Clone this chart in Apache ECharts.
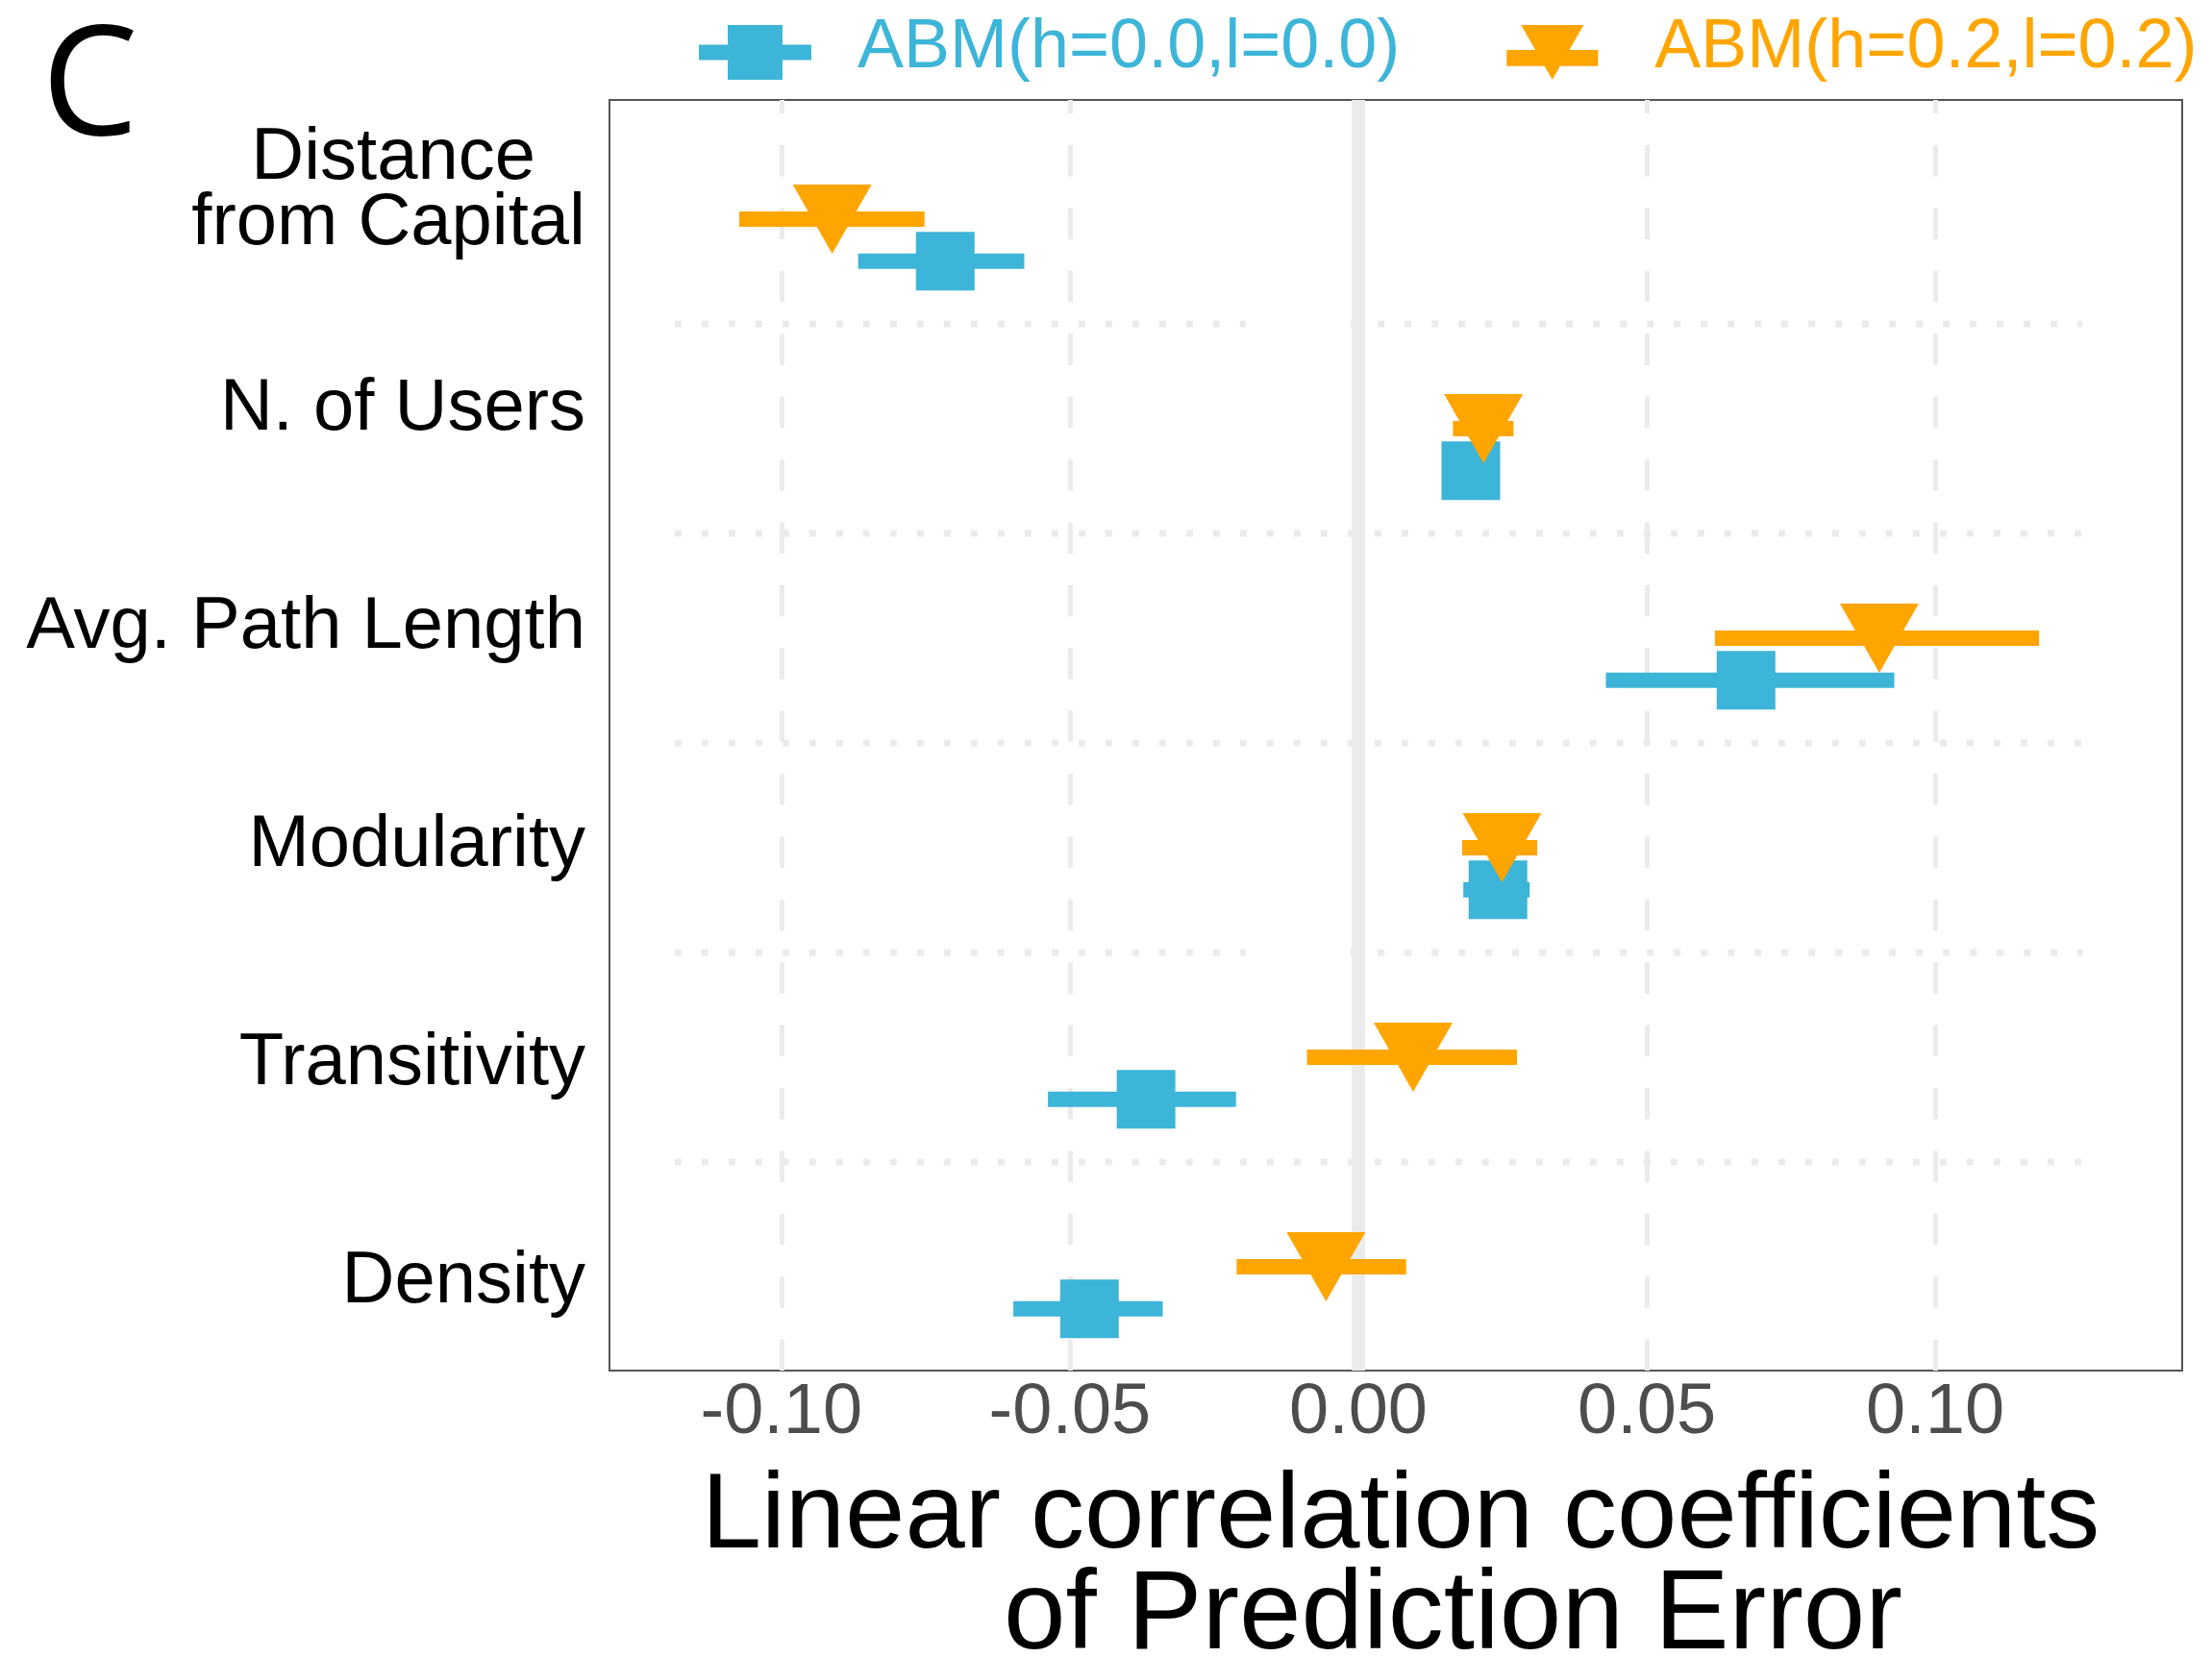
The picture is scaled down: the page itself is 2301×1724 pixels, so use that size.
<!DOCTYPE html>
<html lang="en">
<head>
    <meta charset="UTF-8">
    <script src="https://cdn.jsdelivr.net/npm/echarts@6/dist/echarts.min.js"></script>
    <style>
        * { margin: 0; padding: 0; }
        body { background: #fff; }
        #chart { width: 2301px; height: 1724px; }
    </style>
</head>
<body>
<div id="chart"></div>

<script>
    // categories, top to bottom
    const categories = ['Distance\nfrom Capital', 'N. of Users', 'Avg. Path Length', 'Modularity', 'Transitivity', 'Density'];
    const modelNames = ['ABM(h=0.0,l=0.0)', 'ABM(h=0.2,l=0.2)'];

    // ABM(h=0.0,l=0.0)
    const est00 = [-0.0716, 0.0195, 0.0672, 0.0242, -0.0368, -0.0466];
    const low00 = [-0.0867, 0.0158, 0.0429, 0.0182, -0.0538, -0.0598];
    const high00 = [-0.0579, 0.0232, 0.0929, 0.0297, -0.0212, -0.0339];

    // ABM(h=0.2,l=0.2)
    const est02 = [-0.0912, 0.0217, 0.0903, 0.0249, 0.0095, -0.0056];
    const low02 = [-0.1073, 0.0164, 0.0618, 0.0180, -0.0089, -0.0211];
    const high02 = [-0.0752, 0.0269, 0.1180, 0.0310, 0.0275, 0.0083];

    // dotted separators between categories: [position, from, to]
    const sepSegments = [
        [0.5, -0.1185, -0.0195], [0.5, -0.0013, 0.1255],
        [1.5, -0.1185, 0.1255],
        [2.5, -0.1185, 0.1255],
        [3.5, -0.1185, -0.0195], [3.5, -0.0013, 0.1255],
        [4.5, -0.1185, 0.1255]
    ];

    const xMin = -0.1298, xMax = 0.1428;
    const yMin = -0.569, yMax = 5.495;
    const dodge = 0.2;

    const BLUE = '#3db5d8';
    const ORANGE = '#ffa500';
    const GRID_GREY = '#ebebeb';
    const FONT = '"Liberation Sans", Arial, sans-serif';

    // legend keys drawn in a 117 x 100 box (the moveTo's fix the box)
    const iconBlue = 'path://M0 0M117 100M0 46.5H30V26H87V46.5H117V62.5H87V83H30V62.5H0Z';
    const iconOrange = 'path://M0 0M117 100M26 26H91L76.2 52H106V68.7H66.65L58.5 83L50.35 68.7H11V52H40.8Z';

    const errorBar = (color, offset) => (params, api) => {
        const y = api.value(0) + offset;
        const a = api.coord([api.value(1), y]);
        const b = api.coord([api.value(2), y]);
        return {
            type: 'rect',
            shape: {x: a[0], y: a[1] - 8, width: b[0] - a[0], height: 16},
            style: {fill: color}
        };
    };

    const chart = echarts.init(document.getElementById('chart'));

    const option = {
        backgroundColor: '#fff',
        animation: false,
        textStyle: {fontFamily: FONT},
        graphic: [{
            type: 'text',
            x: 43,
            y: 94,
            style: {
                text: 'C',
                fontSize: 160,
                fontFamily: '"Open Sans", "Noto Sans", sans-serif',
                fill: '#000',
                verticalAlign: 'middle'
            }
        }],
        legend: {
            left: 727,
            top: 0,
            padding: 0,
            itemWidth: 117,
            itemHeight: 100,
            itemGap: 100,
            selectedMode: false,
            textStyle: {fontSize: 72, fontFamily: FONT, padding: [0, 0, 0, 43]},
            data: [
                {name: modelNames[0], icon: iconBlue, textStyle: {color: BLUE}},
                {name: modelNames[1], icon: iconOrange, textStyle: {color: ORANGE}}
            ]
        },
        grid: [
            {
                left: 634, right: 31, top: 104, height: 1322,
                outerBoundsMode: 'none', containLabel: false,
                show: true, borderColor: '#555', borderWidth: 2, backgroundColor: '#fff'
            },
            {
                left: 634, right: 31, top: 85.5, height: 1362,
                outerBoundsMode: 'none', containLabel: false, show: false
            }
        ],
        xAxis: [{
            type: 'value',
            gridIndex: 0,
            min: xMin,
            max: xMax,
            splitNumber: 5,
            axisLine: {show: false},
            axisTick: {show: false},
            axisLabel: {
                fontSize: 74,
                fontFamily: FONT,
                color: '#4d4d4d',
                margin: 8,
                showMinLabel: false,
                showMaxLabel: false,
                formatter: v => v.toFixed(2)
            },
            splitLine: {
                show: true,
                showMinLine: false,
                showMaxLine: false,
                lineStyle: {color: GRID_GREY, width: 5, type: [32.5, 32.9], dashOffset: 18.4}
            },
            name: '{a|Linear correlation coefficients}\n{b|of Prediction Error}',
            nameLocation: 'middle',
            nameGap: 103,
            nameTextStyle: {
                rich: {
                    a: {fontSize: 112, lineHeight: 100, fontFamily: FONT, color: '#000', padding: [0, 0, 0, 10]},
                    b: {fontSize: 116, lineHeight: 108, fontFamily: FONT, color: '#000', padding: [0, 0, 0, 119]}
                }
            }
        }, {
            type: 'value',
            gridIndex: 1,
            show: false
        }],
        yAxis: [{
            type: 'value',
            gridIndex: 0,
            min: yMin,
            max: yMax,
            inverse: true,
            axisLine: {show: false},
            axisTick: {show: false},
            axisLabel: {show: false},
            splitLine: {show: false}
        }, {
            type: 'category',
            gridIndex: 1,
            inverse: true,
            data: categories,
            axisLine: {show: false},
            axisTick: {show: false},
            splitLine: {show: false},
            axisLabel: {
                fontSize: 76,
                fontFamily: FONT,
                color: '#000',
                margin: 25,
                formatter: v => {
                    if (v.indexOf('\n') < 0) return v;
                    const parts = v.split('\n');
                    return `{d|${parts[0]}}\n{f|${parts[1]}}`;
                },
                rich: {
                    d: {fontSize: 76, lineHeight: 68, fontFamily: FONT, color: '#000', padding: [0, 52, 0, 0]},
                    f: {fontSize: 76, lineHeight: 68, fontFamily: FONT, color: '#000'}
                }
            }
        }],
        series: [
            {
                name: 'separators',
                type: 'custom',
                xAxisIndex: 0,
                yAxisIndex: 0,
                z: 1,
                silent: true,
                encode: {x: [1, 2], y: 0},
                data: sepSegments,
                renderItem: (params, api) => {
                    const a = api.coord([api.value(1), api.value(0)]);
                    const b = api.coord([api.value(2), api.value(0)]);
                    return {
                        type: 'line',
                        shape: {x1: a[0], y1: a[1], x2: b[0], y2: b[1]},
                        style: {stroke: GRID_GREY, lineWidth: 7, lineDash: [7, 21]}
                    };
                },
                markLine: {
                    silent: true,
                    symbol: 'none',
                    label: {show: false},
                    lineStyle: {color: GRID_GREY, width: 14, type: 'solid'},
                    data: [{xAxis: 0}]
                }
            },
            {
                name: 'bars00',
                type: 'custom',
                xAxisIndex: 0,
                yAxisIndex: 0,
                z: 3,
                encode: {x: [1, 2], y: 0},
                data: categories.map((c, i) => [i, low00[i], high00[i]]),
                renderItem: errorBar(BLUE, dodge)
            },
            {
                name: modelNames[0],
                type: 'scatter',
                xAxisIndex: 0,
                yAxisIndex: 0,
                z: 4,
                symbol: 'rect',
                symbolSize: 61,
                itemStyle: {color: BLUE, opacity: 1},
                data: categories.map((c, i) => [est00[i], i + dodge])
            },
            {
                name: 'bars02',
                type: 'custom',
                xAxisIndex: 0,
                yAxisIndex: 0,
                z: 5,
                encode: {x: [1, 2], y: 0},
                data: categories.map((c, i) => [i, low02[i], high02[i]]),
                renderItem: errorBar(ORANGE, 0)
            },
            {
                name: modelNames[1],
                type: 'scatter',
                xAxisIndex: 0,
                yAxisIndex: 0,
                z: 6,
                symbol: 'triangle',
                symbolRotate: 180,
                symbolSize: [82, 72],
                itemStyle: {color: ORANGE, opacity: 1},
                data: categories.map((c, i) => [est02[i], i])
            }
        ]
    };

    chart.setOption(option);
</script>
</body>
</html>
